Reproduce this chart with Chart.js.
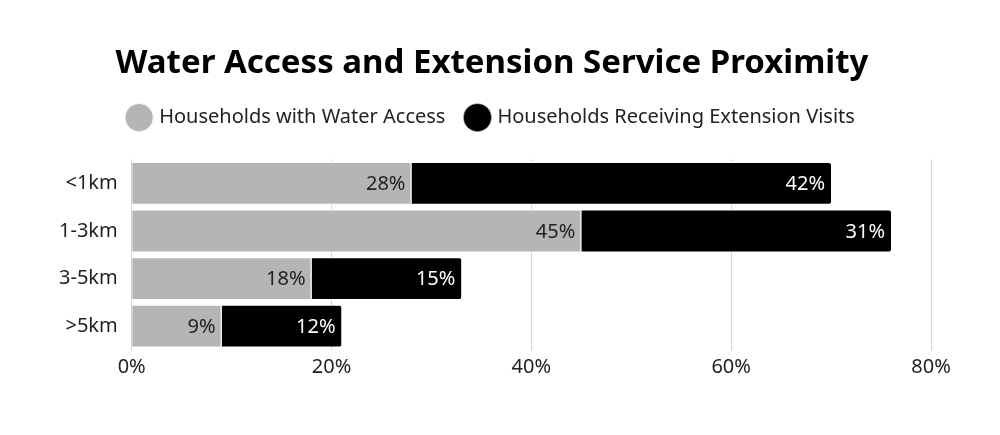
<!DOCTYPE html>
<html>
<head>
<meta charset="utf-8">
<script src="https://cdn.jsdelivr.net/npm/chart.js@4"></script>
<style>
html,body{margin:0;padding:0;background:#fff;}
#wrap{width:1000px;height:435px;}
</style>
</head>
<body>
<div id="wrap"><canvas id="c" width="1000" height="435"></canvas></div>
<script>
const categories = ["<1km", "1-3km", "3-5km", ">5km"];
const waterAccess = [28, 45, 18, 9];
const extensionVisits = [42, 31, 15, 12];
const xTicks = [0, 20, 40, 60, 80];
const seriesNames = ["Households with Water Access", "Households Receiving Extension Visits"];

const FONT = "'Noto Sans', sans-serif";

const labelPlugin = {
  id: 'barLabels',
  afterDatasetsDraw(chart) {
    const ctx = chart.ctx;
    ctx.save();
    ctx.font = "20px " + FONT;
    ctx.textAlign = 'right';
    ctx.textBaseline = 'middle';
    chart.data.datasets.forEach((ds, di) => {
      const meta = chart.getDatasetMeta(di);
      meta.data.forEach((bar, i) => {
        ctx.fillStyle = di === 0 ? '#222222' : '#ffffff';
        ctx.fillText(ds.data[i] + '%', bar.x - 6, bar.y + 1);
      });
    });
    ctx.restore();
  }
};

const legendSpacer = {
  id: 'legendSpacer',
  beforeInit(chart) {
    const orig = chart.legend.fit;
    chart.legend.fit = function() {
      orig.bind(chart.legend)();
      this.height += 22;
    };
  }
};

new Chart(document.getElementById('c'), {
  type: 'bar',
  data: {
    labels: categories,
    datasets: [
      {
        label: seriesNames[0],
        data: waterAccess,
        backgroundColor: '#b5b5b5',
        borderColor: '#ffffff',
        borderWidth: {top: 1, bottom: 1, left: 0, right: 1},
        borderSkipped: false,
        barPercentage: 0.9,
        categoryPercentage: 1.0
      },
      {
        label: seriesNames[1],
        data: extensionVisits,
        backgroundColor: '#000000',
        borderColor: '#ffffff',
        borderWidth: {top: 1, bottom: 1, left: 0, right: 0},
        borderRadius: {topRight: 3, bottomRight: 3, topLeft: 0, bottomLeft: 0},
        borderSkipped: false,
        barPercentage: 0.9,
        categoryPercentage: 1.0
      }
    ]
  },
  options: {
    indexAxis: 'y',
    responsive: false,
    animation: false,
    devicePixelRatio: 1,
    layout: {padding: {left: 53, right: 69, top: 44, bottom: 51}},
    plugins: {
      title: {
        display: true,
        text: 'Water Access and Extension Service Proximity',
        color: '#000',
        font: {family: FONT, size: 33, weight: 'bold'},
        padding: {top: 0, bottom: 2}
      },
      legend: {
        display: true,
        labels: {
          usePointStyle: true,
          pointStyle: 'circle',
          color: '#222',
          font: {family: FONT, size: 20},
          padding: 22,
          boxHeight: 22
        }
      },
      tooltip: {enabled: false}
    },
    scales: {
      x: {
        stacked: true,
        min: 0,
        max: 80,
        afterBuildTicks(axis) { axis.ticks = xTicks.map(v => ({value: v})); },
        ticks: {
          color: '#222',
          font: {family: FONT, size: 20},
          callback: v => v + '%',
          padding: 5
        },
        grid: {color: '#d4d4d4', drawTicks: false},
        border: {display: false}
      },
      y: {
        stacked: true,
        ticks: {
          color: '#222',
          font: {family: FONT, size: 20},
          padding: 6
        },
        grid: {display: false},
        border: {display: false}
      }
    }
  },
  plugins: [labelPlugin, legendSpacer]
});
</script>
</body>
</html>
